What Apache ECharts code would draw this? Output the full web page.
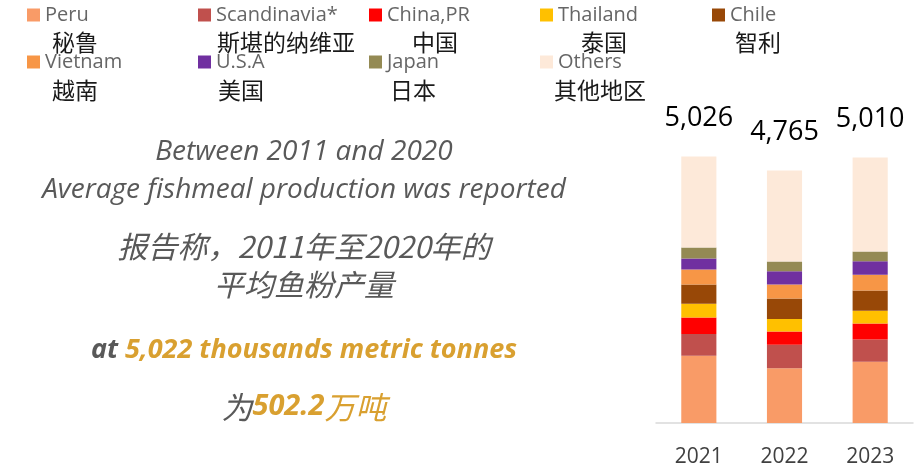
<!DOCTYPE html>
<html>
<head>
<meta charset="utf-8">
<script src="https://cdn.jsdelivr.net/npm/echarts@6/dist/echarts.min.js"></script>
<style>
  html, body { margin: 0; padding: 0; background: #fff; }
  #chart { width: 919px; height: 471px; }
</style>
</head>
<body>
<div id="chart"></div>
<script>
// data (thousand tonnes)
const years = ["2021", "2022", "2023"];
const seriesNames = ["Peru", "Scandinavia*", "China,PR", "Thailand", "Chile", "Vietnam", "U.S.A", "Japan", "Others"];
const seriesNamesZh = ["秘鲁", "斯堪的纳维亚", "中国", "泰国", "智利", "越南", "美国", "日本", "其他地区"];
const peru = [1269, 1031, 1156];
const scandinavia = [409, 446, 421];
const china = [314, 251, 302];
const thailand = [258, 232, 239];
const chile = [364, 390, 383];
const vietnam = [283, 264, 295];
const usa = [207, 251, 258];
const japan = [207, 182, 182];
const others = [1715, 1718, 1774];
const totals = [5026, 4765, 5010];

const colors = ["#F99B67", "#C0504D", "#FF0000", "#FFC000", "#984807", "#F79646", "#7030A0", "#948A54", "#FDE9D9"];
const values = [peru, scandinavia, china, thailand, chile, vietnam, usa, japan, others];

const chart = echarts.init(document.getElementById("chart"));

// legend slots: 5 columns, 2 rows
const colX = [27, 198, 369, 540, 712];
const zhX = [52, 217, 412, 581, 735, 52, 218, 390, 554];

const legends = seriesNames.map((n, i) => ({
  data: [n],
  left: colX[i % 5],
  top: i < 5 ? 5 : 52,
  padding: 0,
  icon: "rect",
  itemWidth: 13,
  itemHeight: 13,
  itemGap: 0,
  textStyle: { fontFamily: "Open Sans", fontSize: 20, color: "#666666" },
}));

const zhTexts = seriesNamesZh.map((t, i) => ({
  type: "text",
  x: zhX[i],
  y: i < 5 ? 42 : 90,
  style: {
    text: t,
    fontFamily: "Noto Sans CJK SC",
    fontSize: 23,
    fill: "#1a1a1a",
    verticalAlign: "middle",
  },
}));

const grayText = "#595959";
const gold = "#D9A030";
const blockText = [
  { y: 152, text: "Between 2011 and 2020", size: 28, font: "Open Sans" },
  { y: 190, text: "Average fishmeal production was reported", size: 28, font: "Open Sans" },
  { y: 247, text: "报告称，2011年至2020年的", size: 30, font: "Noto Sans CJK SC" },
  { y: 285, text: "平均鱼粉产量", size: 30, font: "Noto Sans CJK SC" },
].map((l) => ({
  type: "text",
  x: 304,
  y: l.y,
  style: {
    text: l.text,
    fontFamily: l.font,
    fontStyle: "italic",
    fontSize: l.size,
    fill: grayText,
    align: "center",
    verticalAlign: "middle",
  },
}));

blockText.push({
  type: "text",
  x: 304,
  y: 350,
  style: {
    text: "{g|at }{o|5,022 thousands metric tonnes}",
    align: "center",
    verticalAlign: "middle",
    rich: {
      g: { fontFamily: "Open Sans", fontStyle: "italic", fontWeight: "bold", fontSize: 27, fill: grayText },
      o: { fontFamily: "Open Sans", fontStyle: "italic", fontWeight: "bold", fontSize: 27, fill: gold },
    },
  },
});
blockText.push({
  type: "text",
  x: 304,
  y: 407,
  style: {
    text: "{g|为}{o|502.2}{c|万吨}",
    align: "center",
    verticalAlign: "middle",
    rich: {
      g: { fontFamily: "Noto Sans CJK SC", fontStyle: "italic", fontSize: 31, fill: grayText },
      o: { fontFamily: "Open Sans", fontStyle: "italic", fontWeight: "bold", fontSize: 29, fill: gold },
      c: { fontFamily: "Noto Sans CJK SC", fontStyle: "italic", fontSize: 31, fill: gold },
    },
  },
});

const series = seriesNames.map((n, i) => ({
  name: n,
  type: "bar",
  stack: "total",
  barWidth: "41%",
  data: values[i],
  itemStyle: { color: colors[i] },
  emphasis: { disabled: true },
  label: i === seriesNames.length - 1 ? {
    show: true,
    position: "top",
    distance: 25,
    fontFamily: "Open Sans",
    fontSize: 27,
    color: "#000",
    formatter: (p) => totals[p.dataIndex].toLocaleString("en-US"),
  } : { show: false },
}));

const option = {
  animation: false,
  color: colors,
  legend: legends,
  grid: { left: 656, right: 6, top: 105, bottom: 48 },
  xAxis: {
    type: "category",
    data: years,
    axisLine: { lineStyle: { color: "#D9D9D9", width: 1.5 } },
    axisTick: { show: false },
    axisLabel: { fontFamily: "Open Sans", fontSize: 21, color: "#404040", margin: 24 },
  },
  yAxis: {
    type: "value",
    min: 0,
    max: 6000,
    show: false,
    splitLine: { show: false },
  },
  graphic: zhTexts.concat(blockText),
  series: series,
};

chart.setOption(option);
</script>
</body>
</html>
